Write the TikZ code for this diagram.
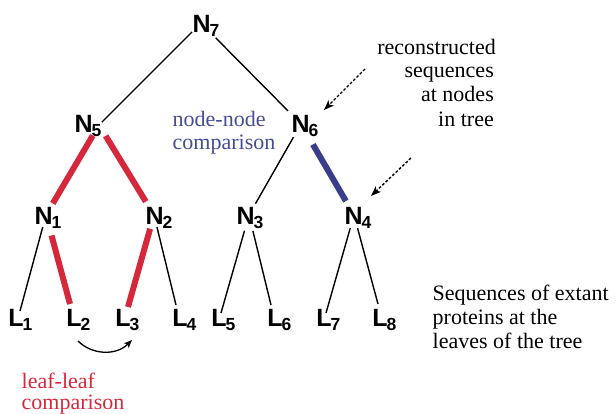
\documentclass[tikz,border=0pt]{standalone}
\usepackage{fontspec}
\setmainfont{Liberation Serif}
\newfontfamily\labfont{Liberation Sans}
\usetikzlibrary{arrows.meta}

\definecolor{leafred}{RGB}{214,40,60}
\definecolor{barblue}{RGB}{58,60,140}
\definecolor{txtblue}{RGB}{70,75,150}

% bold sans label with a large, slightly lowered index
\newcommand\treelab[3]{{\labfont\bfseries\fontsize{25}{25}\selectfont #1}\kern#3\raisebox{-4pt}{\labfont\bfseries\fontsize{17.5}{17.5}\selectfont #2}}

\tikzset{
  inner/.style={inner sep=0pt, anchor=base west},
  leaflab/.style={inner sep=0pt, anchor=base west},
  note/.style={inner sep=0pt, font=\fontsize{22}{22}\selectfont},
  branch/.style={line width=1.4pt, black},
  redbar/.style={line width=6pt, leafred},
  bluebar/.style={line width=6pt, barblue},
  pointer/.style={line width=1.4pt, dash pattern=on 2.8pt off 1.8pt,
    -{Stealth[length=10pt,width=7.5pt,inset=2.5pt]}},
}

\begin{document}
\begin{tikzpicture}[x=1pt,y=-1pt]
\useasboundingbox (0,0) rectangle (616,414);

% junctions where the branches meet
\coordinate (j7) at (201,23);
\coordinate (j5) at (99,125);
\coordinate (j6) at (301,124);
\coordinate (j1) at (46,215);
\coordinate (j2) at (154,215);
\coordinate (j3) at (249,215);
\coordinate (j4) at (354,215);
% tips of the leaf branches
\coordinate (e1) at (20,311);
\coordinate (e2) at (70,304);
\coordinate (e3) at (128,307);
\coordinate (e4) at (176,305);
\coordinate (e5) at (221,313);
\coordinate (e6) at (271,305);
\coordinate (e7) at (326,313);
\coordinate (e8) at (378,304);

% internal node labels
\node[inner] (N7) at (192.3,33) {\treelab{N}{7}{-1pt}};
\node[inner] (N5) at (74.3,133) {\treelab{N}{5}{-1pt}};
\node[inner] (N6) at (291.3,133) {\treelab{N}{6}{-1pt}};
\node[inner] (N1) at (34.3,225) {\treelab{N}{1}{-1pt}};
\node[inner] (N2) at (145.3,225) {\treelab{N}{2}{-1pt}};
\node[inner] (N3) at (236.3,225) {\treelab{N}{3}{-1pt}};
\node[inner] (N4) at (344.3,225) {\treelab{N}{4}{-1pt}};

% leaf labels
\node[leaflab] (L1) at (8.1,326) {\treelab{L}{1}{-1pt}};
\node[leaflab] (L2) at (66.1,326) {\treelab{L}{2}{-1pt}};
\node[leaflab] (L3) at (115.1,326) {\treelab{L}{3}{-1pt}};
\node[leaflab] (L4) at (172.1,326) {\treelab{L}{4}{-1pt}};
\node[leaflab] (L5) at (211.1,326) {\treelab{L}{5}{-1pt}};
\node[leaflab] (L6) at (267.1,326) {\treelab{L}{6}{-1pt}};
\node[leaflab] (L7) at (316.1,326) {\treelab{L}{7}{-1pt}};
\node[leaflab] (L8) at (372.1,326) {\treelab{L}{8}{-1pt}};

% branches
\draw[branch, shorten <=12.7pt, shorten >=4.2pt] (j7) -- (j5);
\draw[branch, shorten <=21pt, shorten >=18.4pt] (j7) -- (j6);
\draw[redbar, shorten <=12.2pt, shorten >=13.4pt] (j5) -- (j1);
\draw[redbar, shorten <=12.8pt, shorten >=15.7pt] (j5) -- (j2);
\draw[branch, shorten <=15.3pt, shorten >=13pt] (j6) -- (j3);
\draw[bluebar, shorten <=23.7pt, shorten >=16.1pt] (j6) -- (j4);
\draw[branch, shorten <=12.4pt] (j1) -- (e1);
\draw[redbar, shorten <=21.2pt] (j1) -- (e2);
\draw[redbar, shorten <=14.3pt] (j2) -- (e3);
\draw[branch, shorten <=12.4pt] (j2) -- (e4);
\draw[branch, shorten <=16.3pt] (j3) -- (e5);
\draw[branch, shorten <=16.5pt] (j3) -- (e6);
\draw[branch, shorten <=13.6pt] (j4) -- (e7);
\draw[branch, shorten <=13.6pt] (j4) -- (e8);

% comparison between two leaves
\coordinate (cmpA) at (78,341);
\coordinate (cmpB) at (132,340);
\draw[line width=1.3pt, -{Stealth[length=8pt,width=6.5pt,inset=2pt]}]
  (cmpA) .. controls (92,355) and (116,356) .. (cmpB);

% dashed pointers to reconstructed nodes
\coordinate (p1s) at (365,69);
\coordinate (p1e) at (324,110);
\coordinate (p2s) at (411,158);
\coordinate (p2e) at (371,196);
\draw[pointer] (p1s) -- (p1e);
\draw[pointer] (p2s) -- (p2e);

% annotations
\node[note, anchor=base east] (rc1) at (496,55) {reconstructed};
\node[note, anchor=base east] (rc2) at (494,78) {sequences};
\node[note, anchor=base east] (rc3) at (494,102) {at nodes};
\node[note, anchor=base east] (rc4) at (494,126.5) {in tree};

\node[note, anchor=base west, text=txtblue] (nn1) at (172.5,127) {node-node};
\node[note, anchor=base west, text=txtblue] (nn2) at (172.5,150) {comparison};

\node[note, anchor=base west, text=leafred] (ll1) at (21.5,388) {leaf-leaf};
\node[note, anchor=base west, text=leafred] (ll2) at (21.5,409) {comparison};

\node[note, anchor=base west] (sq1) at (432.5,301) {Sequences of extant};
\node[note, anchor=base west] (sq2) at (432.5,324.5) {proteins at the};
\node[note, anchor=base west] (sq3) at (432.5,348.5) {leaves of the tree};
\end{tikzpicture}
\end{document}
